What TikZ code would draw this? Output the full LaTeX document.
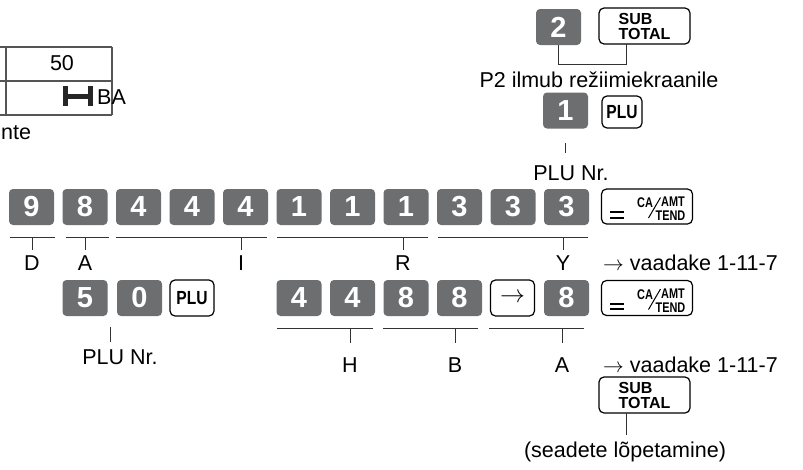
\documentclass[tikz,border=0pt]{standalone}
\usepackage{fontspec}
\setmainfont{Liberation Sans}
\definecolor{keygray}{HTML}{6D6E70}
\definecolor{linegray}{HTML}{333333}
\definecolor{tablegray}{HTML}{555555}
\begin{document}
\begin{tikzpicture}[x=1pt,y=-1pt,
  dkey/.style={fill=keygray, rounded corners=4pt, minimum width=45pt, minimum height=36pt, inner sep=0pt, text=white, font=\bfseries\fontsize{29}{29}\selectfont},
  wkey/.style={draw=black, line width=1.2pt, fill=white, rounded corners=5pt, inner sep=0pt, minimum width=44pt, minimum height=36pt},
  lbl/.style={font=\fontsize{21.5}{24}\selectfont, inner sep=0pt, text=black},
  keytxt/.style={font=\bfseries\fontsize{16}{15}\selectfont, inner sep=0pt, align=left},
  small/.style={font=\bfseries\fontsize{14}{14}\selectfont, inner sep=0pt, xscale=0.78},
  conn/.style={draw=linegray, line width=0.9pt},
  tline/.style={draw=tablegray, line width=1.1pt}
]
\useasboundingbox (0,0) rectangle (803,469);

% ---- table fragment
\draw[tline] (0,47) -- (112,47) (0,81) -- (112,81) (0,115) -- (112,115);
\draw[tline] (6,47) -- (6,115) (112,47) -- (112,115);
\node[lbl] (fifty) at (62,63) {50};
\draw[line width=4.5pt, draw=black!85] (65.5,86) -- (65.5,106) (90.5,86) -- (90.5,106) (65.5,96.5) -- (90.5,96.5);
\node[lbl, anchor=west] (ba) at (97,97) {BA};
\node[lbl, anchor=west] (nte) at (1,133) {nte};

% ---- top right
\node[dkey] (k2) at (558.5,27) {2};
\node[wkey, minimum width=91pt] (st1) at (644.5,26) {};
\node[keytxt] at (st1.center) {SUB\\TOTAL};
\coordinate (st1b) at (626,44);
\coordinate (brk) at (626,64);
\draw[conn] (k2.south) -- (k2.south |- brk) -- (brk) -- (st1b);
\node[lbl] (p2) at (599,80) {P2 ilmub režiimiekraanile};
\node[dkey] (k1top) at (565.5,110.5) {1};
\node[wkey, minimum width=40pt, minimum height=32pt] (plu1) at (622,112) {\scalebox{0.82}[1]{\bfseries\fontsize{19}{19}\selectfont PLU}};
\node[lbl] (plunr1) at (571,173) {PLU Nr.};
\draw[conn] (565.5,143) -- (565.5,153);

% ---- row 1
\node[dkey] (a0) at (31.5,207) {9};
\node[dkey] (a1) at (85,207) {8};
\node[dkey] (a2) at (138.5,207) {4};
\node[dkey] (a3) at (192,207) {4};
\node[dkey] (a4) at (245.5,207) {4};
\node[dkey] (a5) at (299,207) {1};
\node[dkey] (a6) at (352.5,207) {1};
\node[dkey] (a7) at (406,207) {1};
\node[dkey] (a8) at (459.5,207) {3};
\node[dkey] (a9) at (513,207) {3};
\node[dkey] (a10) at (566.5,207) {3};
\node[wkey, minimum width=91pt, minimum height=35pt] (ca1) at (647,206.5) {};
\foreach \k in {ca1}{
  \draw[line width=2pt] ([shift={(-37,5.5)}]\k.center) -- ++(14,0) ([shift={(-37,11)}]\k.center) -- ++(14,0);
  \node[small] at ([shift={(-2,-3.5)}]\k.center) {CA};
  \draw[line width=1pt] ([shift={(1.5,11.5)}]\k.center) -- ([shift={(13.5,-9)}]\k.center);
  \node[small] at ([shift={(26,-4.5)}]\k.center) {AMT};
  \node[small] at ([shift={(23.5,9.5)}]\k.center) {TEND};
}

% underlines row 1
\draw[conn] (10,237) -- (55,237) (66,237) -- (109,237) (116,237) -- (267,237) (277,237) -- (428,237) (438,237) -- (588,237);
\node[lbl] (lD) at (32,263) {D};
\node[lbl] (lA) at (85,263) {A};
\node[lbl] (lI) at (241,263) {I};
\node[lbl] (lR) at (403,263) {R};
\node[lbl] (lY) at (563,263) {Y};
\foreach \n in {lD,lA,lI,lR,lY}{ \draw[conn] (\n |- 0,237) -- (\n |- 0,250); }
\node[lbl, anchor=west] (v1) at (603,263) {$\rightarrow$ vaadake 1-11-7};

% ---- row 2
\node[dkey] (b1) at (85,298) {5};
\node[dkey] (b2) at (139.5,298) {0};
\node[wkey] (plu2) at (192,298) {\scalebox{0.82}[1]{\bfseries\fontsize{19}{19}\selectfont PLU}};
\draw[conn] (110,327) -- (110,342);
\node[lbl] (plunr2) at (120,357) {PLU Nr.};

\node[dkey] (b5) at (299,298) {4};
\node[dkey] (b6) at (352.5,298) {4};
\node[dkey] (b7) at (406,298) {8};
\node[dkey] (b8) at (459.5,298) {8};
\node[wkey] (arr) at (512.5,298) {\fontsize{28}{28}\selectfont$\rightarrow$};
\node[dkey] (b10) at (566.5,298) {8};
\node[wkey, minimum width=91pt, minimum height=35pt] (ca2) at (647,298) {};
\foreach \k in {ca2}{
  \draw[line width=2pt] ([shift={(-37,5.5)}]\k.center) -- ++(14,0) ([shift={(-37,11)}]\k.center) -- ++(14,0);
  \node[small] at ([shift={(-2,-3.5)}]\k.center) {CA};
  \draw[line width=1pt] ([shift={(1.5,11.5)}]\k.center) -- ([shift={(13.5,-9)}]\k.center);
  \node[small] at ([shift={(26,-4.5)}]\k.center) {AMT};
  \node[small] at ([shift={(23.5,9.5)}]\k.center) {TEND};
}

\draw[conn] (277,328) -- (373,328) (383,328) -- (478,328) (489,328) -- (584,328);
\node[lbl] (lH) at (350,365) {H};
\node[lbl] (lB) at (455,365) {B};
\node[lbl] (lA2) at (562,365) {A};
\foreach \n in {lH,lB,lA2}{ \draw[conn] (\n |- 0,328) -- (\n |- 0,343); }
\node[lbl, anchor=west] (v2) at (603,365) {$\rightarrow$ vaadake 1-11-7};

\node[wkey, minimum width=91pt] (st2) at (644.5,395) {};
\node[keytxt] at (st2.center) {SUB\\TOTAL};
\node[lbl] (end) at (625,452) {(seadete lõpetamine)};
\draw[conn] (626,413) -- (626,435);
\end{tikzpicture}
\end{document}
